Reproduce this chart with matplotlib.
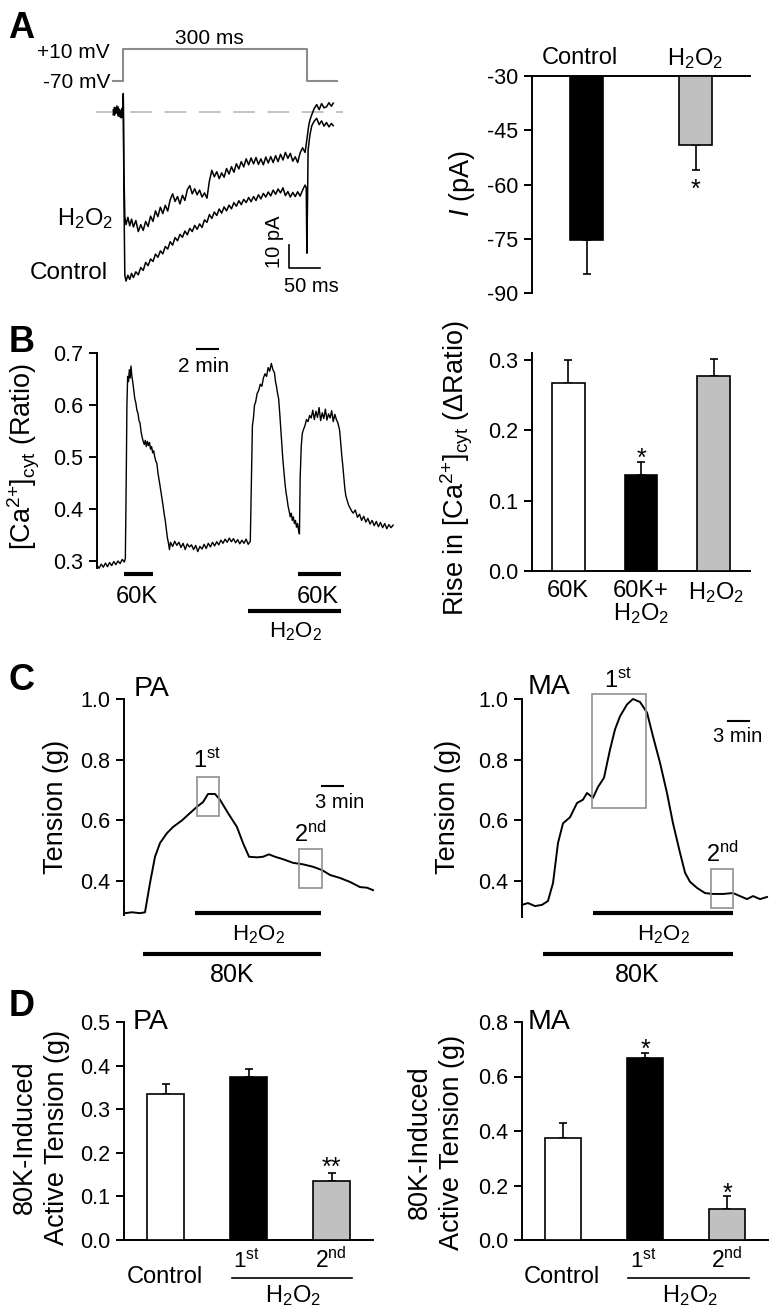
import matplotlib
matplotlib.use("Agg")
import matplotlib.pyplot as plt
from matplotlib.lines import Line2D
from matplotlib.patches import Rectangle
from matplotlib.ticker import FormatStrFormatter

plt.rcParams['font.family'] = ['Liberation Sans', 'DejaVu Sans']
plt.rcParams['mathtext.fontset'] = 'custom'
plt.rcParams['mathtext.rm'] = 'Liberation Sans'
plt.rcParams['mathtext.it'] = 'Liberation Sans:italic'
plt.rcParams['mathtext.bf'] = 'Liberation Sans:bold'
plt.rcParams['axes.unicode_minus'] = False

# ---------------- DATA ----------------
# Panel A: step protocol (ms, mV)
protocol_t = [-16, 0, 0, 300, 300, 349]
protocol_v = [-70, -70, 10, 10, -70, -70]

# Panel A: current traces (ms, pA)
ctrl_t = [-16, -14, -12, -10, -8, -6, -4, -2, 0, 0.5, 1.5, 3, 5, 8, 11, 14, 17, 21, 25, 29, 33, 37, 41, 45, 49,
          53, 57, 61, 65, 69, 73, 77, 81, 85, 89, 93, 97, 101, 105, 109, 113, 117, 121, 125, 129, 133, 137,
          141, 145, 149, 153, 157, 161, 165, 169, 173, 177, 181, 185, 189, 193, 197, 201, 205, 209, 213, 217,
          221, 225, 229, 233, 237, 241, 245, 249, 253, 257, 261, 265, 269, 273, 277, 281, 285, 289, 293, 297,
          299, 300, 301, 302, 305, 308, 312, 316, 320, 324, 328, 332, 336, 340, 343]
ctrl_i = [0.8, -1.5, 1.8, -0.5, 2.2, -2.0, 0.6, -2.6, 1.0, 8.0, -35, -71, -73.5, -71.0, -72.8, -70.2, -72.0,
          -69.5, -70.8, -67.6, -68.9, -65.4, -66.8, -63.9, -65.0, -61.8, -63.2, -60.4, -61.7, -58.5, -59.6,
          -56.4, -57.9, -54.6, -56.0, -53.2, -54.5, -51.8, -53.4, -50.6, -52.0, -49.3, -51.0, -48.7, -50.2,
          -46.9, -48.0, -44.6, -46.3, -43.5, -45.0, -42.2, -44.0, -41.3, -43.0, -40.5, -42.1, -39.4, -41.0,
          -38.6, -40.3, -38.0, -39.4, -37.2, -39.0, -36.8, -38.5, -36.0, -37.8, -35.4, -37.0, -34.8, -36.5,
          -34.0, -35.8, -33.5, -35.2, -33.0, -36.4, -34.6, -37.0, -35.0, -36.8, -34.7, -36.6, -34.0, -31.8,
          -33.0, -61.4, -40.0, -16.5, -10.0, -6.0, -4.0, -2.8, -5.5, -3.9, -6.2, -4.6, -6.5, -5.0, -6.0]

h2o2_t = [-16, -14, -12, -10, -8, -6, -4, -2, 0, 0.5, 1.5, 3, 5, 8, 11, 14, 17, 21, 25, 29, 33, 37, 41, 45, 49,
          53, 57, 61, 65, 69, 73, 77, 81, 85, 89, 93, 97, 101, 105, 109, 113, 117, 121, 125, 129, 133, 137,
          141, 145, 149, 153, 157, 161, 165, 169, 173, 177, 181, 185, 189, 193, 197, 201, 205, 209, 213, 217,
          221, 225, 229, 233, 237, 241, 245, 249, 253, 257, 261, 265, 269, 273, 277, 281, 285, 289, 293, 297,
          299, 301, 303, 305, 308, 312, 316, 320, 324, 328, 332, 336, 340, 343]
h2o2_i = [-1.2, 2.0, -0.8, 2.6, -1.8, 1.2, -2.4, 1.5, -0.5, 5.0, -25, -45.5, -49.0, -45.8, -49.5, -46.6, -50.0,
          -47.2, -52.0, -49.0, -51.5, -47.6, -49.8, -45.3, -47.6, -43.0, -45.5, -41.4, -44.2, -40.6, -43.1,
          -38.2, -35.6, -38.9, -36.8, -40.0, -36.2, -38.5, -33.8, -32.0, -35.6, -33.4, -36.0, -34.0, -37.0,
          -35.2, -37.5, -30.0, -25.4, -28.2, -26.0, -29.0, -26.5, -28.4, -24.6, -27.0, -23.8, -26.2, -22.5,
          -24.8, -21.6, -23.9, -20.4, -23.0, -20.0, -22.6, -19.8, -22.8, -20.4, -23.0, -19.6, -22.2, -19.4,
          -22.0, -19.0, -21.6, -18.4, -20.9, -17.6, -20.2, -18.0, -21.4, -19.5, -22.0, -17.8, -15.6, -17.6,
          -14.0, -10.0, -6.0, -3.5, -1.2, 1.5, 3.2, 1.0, 3.6, 1.8, 2.2, 4.0, 2.5, 3.8]

# Panel A: bar chart (pA)
a_groups = ["Control", "H$_2$O$_2$"]
a_means = [-75.3, -49.1]
a_errs = [9.5, 7.0]

# Panel B: Ca2+ ratio trace (min, ratio)
b_t = [0, 0.2, 0.4, 0.6, 0.8, 1.0, 1.2, 1.4, 1.6, 1.8, 2.0, 2.2, 2.4, 2.6, 2.7,
       2.78, 2.85, 2.92, 3.0, 3.08, 3.16, 3.24, 3.32, 3.4, 3.5, 3.6, 3.7, 3.8, 3.9, 4.0, 4.1, 4.2, 4.3, 4.4,
       4.5, 4.6, 4.7, 4.8, 4.9, 5.0, 5.1, 5.2, 5.3, 5.4, 5.5, 5.6, 5.7, 5.8, 5.9, 6.0, 6.1, 6.2, 6.3, 6.4,
       6.5, 6.6, 6.7, 6.8, 6.9, 7.0,
       7.2, 7.4, 7.6, 7.8, 8.0, 8.2, 8.4, 8.6, 8.8, 9.0, 9.2, 9.4, 9.6, 9.8, 10.0, 10.2, 10.4, 10.6, 10.8,
       11.0, 11.2, 11.4, 11.6, 11.8, 12.0, 12.2, 12.4, 12.6, 12.8, 13.0, 13.2, 13.4, 13.6, 13.8, 14.0, 14.2,
       14.4, 14.6,
       14.7, 14.8, 14.9, 15.0, 15.1, 15.25, 15.4, 15.55, 15.7, 15.85, 16.0, 16.15, 16.3, 16.45, 16.6, 16.75,
       16.9, 17.0, 17.1, 17.2, 17.3, 17.4, 17.5, 17.6, 17.7, 17.8, 17.9, 18.0, 18.1, 18.2, 18.3, 18.4, 18.5,
       18.6, 18.7, 18.8, 18.9, 19.0, 19.1, 19.2, 19.28,
       19.35, 19.45, 19.55, 19.65, 19.8, 19.95, 20.1, 20.25, 20.4, 20.55, 20.7, 20.85, 21.0, 21.15, 21.3,
       21.45, 21.6, 21.75, 21.9, 22.05, 22.2, 22.35, 22.5, 22.65, 22.8,
       22.95, 23.1, 23.2, 23.3, 23.4, 23.5, 23.6, 23.7, 23.8, 23.95, 24.1, 24.25, 24.4, 24.6, 24.8, 25.0,
       25.2, 25.4, 25.6, 25.8, 26.0, 26.2, 26.4, 26.6, 26.8, 27.0, 27.2, 27.4, 27.6, 27.8, 28.0, 28.2]
b_ratio = [0.292, 0.286, 0.294, 0.288, 0.296, 0.289, 0.297, 0.291, 0.299, 0.293, 0.300, 0.295, 0.303, 0.298, 0.305,
           0.45, 0.60, 0.655, 0.645, 0.668, 0.652, 0.675, 0.655, 0.645, 0.628, 0.612, 0.604, 0.590, 0.584, 0.570,
           0.565, 0.548, 0.538, 0.530, 0.524, 0.532, 0.520, 0.530, 0.522, 0.528, 0.515, 0.520, 0.508, 0.512,
           0.500, 0.492, 0.488, 0.470, 0.458, 0.445, 0.432, 0.420, 0.405, 0.390, 0.378, 0.362, 0.345, 0.335,
           0.322, 0.336,
           0.328, 0.338, 0.330, 0.336, 0.326, 0.334, 0.322, 0.333, 0.327, 0.331, 0.322, 0.330, 0.318, 0.328,
           0.323, 0.332, 0.324, 0.334, 0.327, 0.336, 0.329, 0.337, 0.331, 0.340, 0.334, 0.342, 0.336, 0.344,
           0.337, 0.343, 0.335, 0.341, 0.333, 0.340, 0.334, 0.342, 0.332, 0.338,
           0.45, 0.56, 0.575, 0.60, 0.605, 0.622, 0.628, 0.640, 0.636, 0.652, 0.660, 0.655, 0.672, 0.665, 0.680,
           0.668, 0.662, 0.645, 0.635, 0.622, 0.612, 0.585, 0.555, 0.525, 0.495, 0.472, 0.450, 0.432, 0.420,
           0.405, 0.396, 0.385, 0.392, 0.378, 0.385, 0.372, 0.378, 0.365, 0.372, 0.358, 0.352,
           0.46, 0.52, 0.545, 0.552, 0.560, 0.572, 0.568, 0.580, 0.575, 0.590, 0.572, 0.588, 0.576, 0.595, 0.570,
           0.585, 0.574, 0.592, 0.571, 0.583, 0.575, 0.589, 0.568, 0.582, 0.572,
           0.565, 0.552, 0.530, 0.505, 0.485, 0.462, 0.440, 0.425, 0.418, 0.408, 0.402, 0.396, 0.392, 0.398,
           0.384, 0.390, 0.378, 0.386, 0.375, 0.382, 0.371, 0.378, 0.368, 0.376, 0.366, 0.374, 0.364, 0.372,
           0.362, 0.370, 0.364, 0.369]
b_k60_1 = [2.57, 5.33]
b_k60_2 = [19.14, 23.24]
b_h2o2 = [14.38, 23.24]

# Panel B: bar chart
b_groups = ["60K", "60K+", "H$_2$O$_2$"]
b_means = [0.268, 0.136, 0.278]
b_errs = [0.032, 0.019, 0.024]

# Panel C: tension traces (min, g)
pa_t = [0.0, 0.14, 1.14, 2.29, 3.0, 3.71, 4.43, 5.14, 6.14, 7.0, 8.29, 9.14, 10.43, 11.29, 12.0, 13.0, 13.71,
        14.86, 16.14, 17.0, 17.86, 19.0, 19.86, 20.71, 21.57, 22.71, 24.14, 25.57, 27.0, 28.29, 29.43, 30.86,
        32.29, 33.71, 34.71, 35.57]
pa_g = [0.292, 0.294, 0.297, 0.294, 0.297, 0.393, 0.48, 0.525, 0.558, 0.578, 0.60, 0.618, 0.645, 0.66, 0.687,
        0.687, 0.668, 0.624, 0.578, 0.525, 0.48, 0.478, 0.48, 0.488, 0.48, 0.472, 0.46, 0.455, 0.447, 0.436,
        0.42, 0.41, 0.397, 0.38, 0.378, 0.37]
ma_t = [0, 0.86, 1.86, 2.86, 3.71, 4.43, 5.14, 5.86, 6.86, 7.86, 8.71, 9.29, 10.14, 10.86, 11.71, 12.57, 13.29,
        14.0, 15.0, 15.86, 16.86, 17.86, 18.71, 19.71, 20.71, 21.57, 22.57, 23.29, 24.0, 25.0, 26.14, 27.29,
        28.71, 30.14, 31.14, 32.14, 33.0, 34.0, 35.0]
ma_g = [0.321, 0.327, 0.317, 0.321, 0.334, 0.393, 0.525, 0.59, 0.61, 0.657, 0.668, 0.69, 0.674, 0.71, 0.74,
        0.833, 0.9, 0.943, 0.982, 1.0, 0.99, 0.955, 0.877, 0.79, 0.69, 0.59, 0.493, 0.427, 0.397, 0.377, 0.36,
        0.357, 0.357, 0.36, 0.35, 0.34, 0.35, 0.34, 0.347]
pa_h2o2 = [10.14, 28.14]
pa_k80 = [2.71, 28.14]
ma_h2o2 = [10.14, 30.14]
ma_k80 = [3.0, 30.14]
pa_box1 = [10.43, 13.57, 0.615, 0.743]
pa_box2 = [25.0, 28.29, 0.377, 0.506]
ma_box1 = [10.0, 17.71, 0.641, 1.015]
ma_box2 = [27.0, 30.14, 0.31, 0.44]

# Panel D: bar charts
d_groups = ["Control", "1$^{\\mathrm{st}}$", "2$^{\\mathrm{nd}}$"]
d_pa_means = [0.335, 0.375, 0.135]
d_pa_errs = [0.023, 0.017, 0.019]
d_ma_means = [0.374, 0.668, 0.113]
d_ma_errs = [0.056, 0.017, 0.047]

# ---------------- FIGURE ----------------
W, H = 773, 1315
fig = plt.figure(figsize=(W / 100, H / 100), dpi=100)

TICK_FS = 15.5
LAB_FS = 19.5
TXT_FS = 16.5
LET_FS = 26
STAR_FS = 18
GRAY = '#c0c0c0'
BOXGRAY = '#909090'
LW = 1.4
CA_LABEL = "[Ca$^{2{+}}$]$_{\\mathrm{cyt}}$"


def ax_px(l, t, r, b):
    return fig.add_axes([l / W, 1 - b / H, (r - l) / W, (b - t) / H])


def ftext(x, y, s, **kw):
    kw.setdefault('fontsize', TXT_FS)
    kw.setdefault('ha', 'center')
    kw.setdefault('va', 'center')
    fig.text(x / W, 1 - y / H, s, **kw)


def fline(x0, x1, y0, y1, **kw):
    fig.add_artist(Line2D([x0 / W, x1 / W], [1 - y0 / H, 1 - y1 / H], transform=fig.transFigure, **kw))


def style_axis(ax, left=True, bottom=False, top=False):
    for s in ['left', 'right', 'top', 'bottom']:
        ax.spines[s].set_visible(False)
        ax.spines[s].set_linewidth(LW)
    ax.spines['left'].set_visible(left)
    ax.spines['bottom'].set_visible(bottom)
    ax.spines['top'].set_visible(top)
    ax.tick_params(axis='y', direction='out', length=6, width=LW, labelsize=TICK_FS, pad=4)
    ax.set_xticks([])
    ax.patch.set_alpha(0)


def bars(ax, xs, means, errs, colors, width, down=False, base=0.0):
    for x, m, e, c in zip(xs, means, errs, colors):
        ax.bar(x, m - base, bottom=base, width=width, color=c, edgecolor='black', linewidth=1.2, zorder=3)
        yerr = [[e], [0]] if down else [[0], [e]]
        ax.errorbar(x, m, yerr=yerr, fmt='none', ecolor='black', elinewidth=1.2, capsize=3,
                    capthick=1.2, zorder=2)


# ===== Panel A left =====
axp = ax_px(96, 40, 345, 90)
axp.set_xlim(-44.0, 362.2)
axp.set_ylim(-92.5, 32.5)
axp.axis('off')
axp.plot(protocol_t, protocol_v, color='#8c8c8c', lw=1.5)

axa = ax_px(96, 85, 345, 290)
axa.set_xlim(-44.0, 362.2)
axa.set_ylim(-77.4, 11.7)
axa.axis('off')
axa.plot([-44, 359], [0, 0], color='#bdbdbd', lw=1.3, dashes=(12, 7))
axa.plot(ctrl_t, ctrl_i, color='black', lw=1.1)
axa.plot(h2o2_t, h2o2_i, color='black', lw=1.1)
axa.plot([271, 271, 321], [-57.8, -67.8, -67.8], color='black', lw=1.2)

ftext(8, 29, "A", fontsize=LET_FS, fontweight='bold', ha='left')
ftext(110, 53, "+10 mV", ha='right', fontsize=15)
ftext(110, 82, "-70 mV", ha='right', fontsize=15)
ftext(209, 39, "300 ms", fontsize=15)
ftext(113, 219, "H$_2$O$_2$", ha='right', fontsize=17)
ftext(108, 273, "Control", ha='right', fontsize=17.5)
ftext(275, 242, "10 pA", rotation=90, fontsize=14.5)
ftext(311, 287, "50 ms", fontsize=14.5)

# ===== Panel A right =====
axr = ax_px(532, 76, 750, 293)
style_axis(axr, left=True, top=True)
axr.set_xlim(0, 4)
axr.set_ylim(-90, -30)
axr.set_yticks([-90, -75, -60, -45, -30])
bars(axr, [1, 3], a_means, a_errs, ['black', GRAY], 0.6, down=True, base=-30)
ftext(580, 58, a_groups[0], fontsize=17)
ftext(695, 59, a_groups[1], fontsize=17)
ftext(695, 190, "*", fontsize=STAR_FS)
ftext(462, 184, "$I$ (pA)", rotation=90, fontsize=LAB_FS)

# ===== Panel B left =====
axb = ax_px(97, 353, 393, 568)
style_axis(axb, left=True)
axb.set_xlim(0, 28.19)
axb.set_ylim(0.2865, 0.7)
axb.set_yticks([0.3, 0.4, 0.5, 0.6, 0.7])
axb.yaxis.set_major_formatter(FormatStrFormatter('%.1f'))
axb.plot(b_t, b_ratio, color='black', lw=1.0, clip_on=False)
axb.plot(b_k60_1, [0.275, 0.275], color='black', lw=3, solid_capstyle='butt', clip_on=False)
axb.plot(b_k60_2, [0.275, 0.275], color='black', lw=3, solid_capstyle='butt', clip_on=False)
axb.plot(b_h2o2, [0.2038, 0.2038], color='black', lw=3, solid_capstyle='butt', clip_on=False)
axb.plot([9.52, 11.52], [0.7077, 0.7077], color='black', lw=1.5, clip_on=False)
ftext(9, 343, "B", fontsize=LET_FS, fontweight='bold', ha='left')
ftext(204, 366, "2 min", fontsize=15)
ftext(137, 597, "60K", fontsize=17)
ftext(318, 597, "60K", fontsize=17)
ftext(295, 632, "H$_2$O$_2$", fontsize=16)
ftext(24, 457, CA_LABEL + " (Ratio)", rotation=90, fontsize=LAB_FS)

# ===== Panel B right =====
axbr = ax_px(532, 353, 750, 571)
style_axis(axbr, left=True, bottom=True)
axbr.set_xlim(0, 3)
axbr.set_ylim(0, 0.31)
axbr.set_yticks([0.0, 0.1, 0.2, 0.3])
axbr.yaxis.set_major_formatter(FormatStrFormatter('%.1f'))
bars(axbr, [0.5, 1.5, 2.5], b_means, b_errs, ['white', 'black', GRAY], 0.45)
ftext(568, 591, b_groups[0], fontsize=17)
ftext(641, 591, b_groups[1], fontsize=17)
ftext(641, 614, "H$_2$O$_2$", fontsize=17)
ftext(716, 593, b_groups[2], fontsize=17)
ftext(641, 459, "*", fontsize=STAR_FS)
ftext(457, 468, "Rise in " + CA_LABEL + " ($\\Delta$Ratio)", rotation=90, fontsize=LAB_FS)


# ===== Panel C =====
def tension_panel(l, r, b, t_list, g_list, tmax, ymin, h2o2, k80, box1, box2):
    ax = ax_px(l, 699, r, b)
    style_axis(ax, left=True)
    ax.set_xlim(0, tmax)
    ax.set_ylim(ymin, 1.0)
    ax.set_yticks([0.4, 0.6, 0.8, 1.0])
    ax.yaxis.set_major_formatter(FormatStrFormatter('%.1f'))
    ax.plot(t_list, g_list, color='black', lw=1.4, clip_on=False)
    ax.plot(h2o2, [0.294, 0.294], color='black', lw=3, solid_capstyle='butt', clip_on=False)
    ax.plot(k80, [0.159, 0.159], color='black', lw=3, solid_capstyle='butt', clip_on=False)
    for bx in (box1, box2):
        ax.add_patch(Rectangle((bx[0], bx[2]), bx[1] - bx[0], bx[3] - bx[2], fill=False,
                               edgecolor=BOXGRAY, lw=1.2, clip_on=False, zorder=4))
    return ax


axc1 = tension_panel(124, 373, 915, pa_t, pa_g, 35.57, 0.288, pa_h2o2, pa_k80, pa_box1, pa_box2)
axc1.plot([28.29, 31.29], [0.713, 0.713], color='black', lw=1.5, clip_on=False)
axc2 = tension_panel(522, 768, 917, ma_t, ma_g, 35.14, 0.281, ma_h2o2, ma_k80, ma_box1, ma_box2)
axc2.plot([29.43, 32.43], [0.927, 0.927], color='black', lw=1.5, clip_on=False)

ftext(9, 680, "C", fontsize=LET_FS, fontweight='bold', ha='left')
ftext(134, 689, "PA", ha='left', fontsize=20.5)
ftext(528, 687, "MA", ha='left', fontsize=20.5)
ftext(207, 768, "1$^{\\mathrm{st}}$", va='baseline', fontsize=17)
ftext(310, 842, "2$^{\\mathrm{nd}}$", va='baseline', fontsize=17)
ftext(618, 688, "1$^{\\mathrm{st}}$", va='baseline', fontsize=17)
ftext(722, 862, "2$^{\\mathrm{nd}}$", va='baseline', fontsize=17)
ftext(340, 808, "3 min", va='baseline', fontsize=14.5)
ftext(738, 742, "3 min", va='baseline', fontsize=14.5)
ftext(258, 935, "H$_2$O$_2$", fontsize=16)
ftext(232, 975, "80K", fontsize=18)
ftext(663, 935, "H$_2$O$_2$", fontsize=16)
ftext(637, 975, "80K", fontsize=18)
ftext(56, 807, "Tension (g)", rotation=90, fontsize=LAB_FS)
ftext(448, 807, "Tension (g)", rotation=90, fontsize=LAB_FS)


# ===== Panel D =====
def d_panel(l, r, means, errs, ymax, yticks):
    ax = ax_px(l, 1022, r, 1240)
    style_axis(ax, left=True, bottom=True)
    ax.set_xlim(0, 3)
    ax.set_ylim(0, ymax)
    ax.set_yticks(yticks)
    ax.yaxis.set_major_formatter(FormatStrFormatter('%.1f'))
    bars(ax, [0.5, 1.5, 2.5], means, errs, ['white', 'black', GRAY], 0.45)
    return ax


axd1 = d_panel(124, 373, d_pa_means, d_pa_errs, 0.5, [0.0, 0.1, 0.2, 0.3, 0.4, 0.5])
axd2 = d_panel(522, 768, d_ma_means, d_ma_errs, 0.8, [0.0, 0.2, 0.4, 0.6, 0.8])

ftext(9, 1006, "D", fontsize=LET_FS, fontweight='bold', ha='left')
ftext(133, 1022, "PA", ha='left', fontsize=20.5)
ftext(528, 1022, "MA", ha='left', fontsize=20.5)
for cx, c1, c2, hx in [(165, 246, 331, 293), (562, 643, 727, 690)]:
    ftext(cx, 1283, d_groups[0], va='baseline', fontsize=17)
    ftext(c1, 1268, d_groups[1], va='baseline', fontsize=16)
    ftext(c2, 1268, d_groups[2], va='baseline', fontsize=16.5)
    ftext(hx, 1302, "H$_2$O$_2$", va='baseline', fontsize=17)
fline(232, 352, 1278, 1278, color='black', lw=1.2)
fline(628, 749, 1278, 1278, color='black', lw=1.2)
ftext(331, 1168, "**", fontsize=STAR_FS)
ftext(645, 1050, "*", fontsize=STAR_FS)
ftext(727, 1194, "*", fontsize=STAR_FS)
ftext(25, 1137, "80K-Induced", rotation=90, fontsize=LAB_FS)
ftext(57, 1137, "Active Tension (g)", rotation=90, fontsize=LAB_FS)
ftext(420, 1142, "80K-Induced", rotation=90, fontsize=LAB_FS)
ftext(452, 1142, "Active Tension (g)", rotation=90, fontsize=LAB_FS)

fig.savefig("out.png", dpi=100)
